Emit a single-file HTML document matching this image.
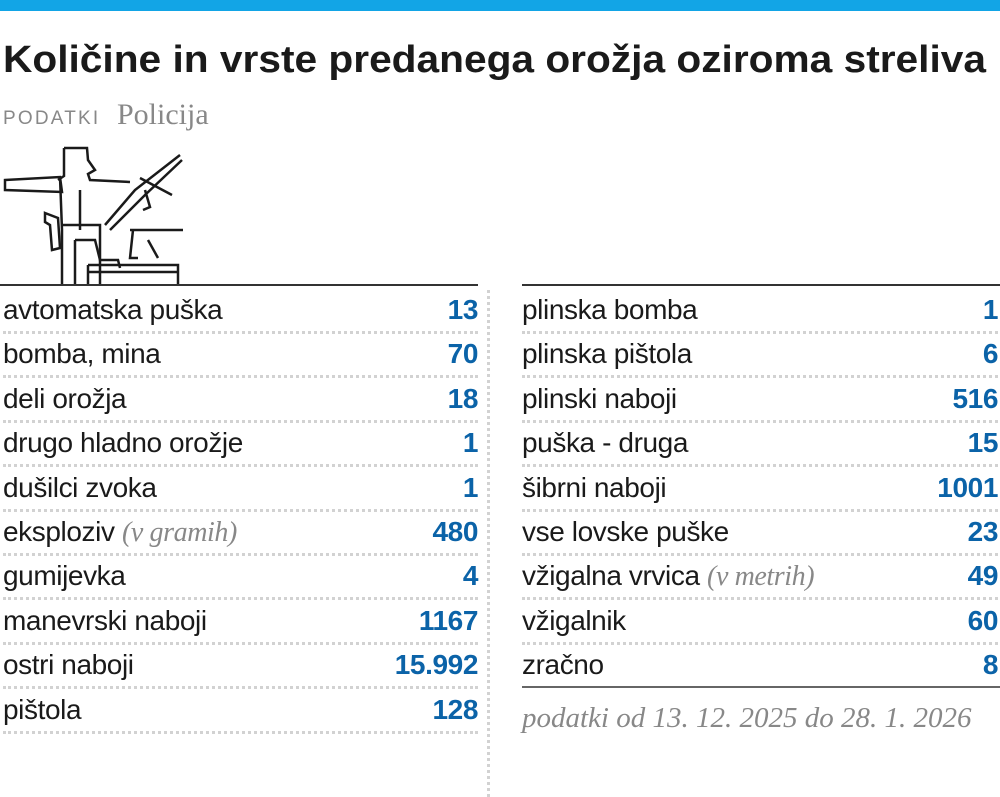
<!DOCTYPE html>
<html><head><meta charset="utf-8"><style>
body{margin:0;width:1000px;height:797px;background:#fff;position:relative;overflow:hidden;font-family:"Liberation Sans",sans-serif}
.bar{position:absolute;left:0;top:0;width:1000px;height:11px;background:#12a5e6}
.row{position:absolute;height:44px;font-size:28px;color:#1a1a1a;line-height:44px;letter-spacing:-0.4px}
.row b{position:absolute;right:0;top:0;color:#0b63a8;font-weight:bold}
.row i{font-family:"Liberation Serif",serif;color:#888}
.dot{position:absolute;height:0;border-top:3px dotted #d2d2d2}
</style></head><body>
<div class="bar"></div>
<svg style="position:absolute;left:0;top:0" width="1000" height="290">
<text x="3" y="72" font-family="Liberation Sans" font-weight="bold" font-size="38" fill="#1a1a1a" textLength="983" lengthAdjust="spacingAndGlyphs">Količine in vrste predanega orožja oziroma streliva</text>
<text x="3" y="124" font-family="Liberation Sans" font-size="19" fill="#888" letter-spacing="2.2">PODATKI</text>
<text x="117" y="124" font-family="Liberation Serif" font-size="30" fill="#888">Policija</text>
<g fill="none" stroke="#1a1a1a" stroke-width="2.5">
<path d="M5 180 L60 177 L62 192 L5 190 Z"/>
<path d="M64 148 L87 148 L88 160 L95 170 L88 174 L90 180 L130 182"/>
<path d="M64 148 L64 176 L58 180"/>
<path d="M60 177 L62 230 M80 190 L80 230"/>
<path d="M45 213 L58 218 L60 248 L52 250 L50 225 L45 222 Z"/>
<path d="M62 225 L100 225 L100 285 M62 230 L62 285 M75 240 L75 285"/>
<path d="M75 240 L95 240 L100 260 L118 260 L120 268"/>
<path d="M105 225 L135 190 L180 155 M110 230 L145 195 L182 160"/>
<path d="M140 178 L172 195 M145 190 L150 207 L143 210"/>
<path d="M130 230 L183 230 M133 230 L130 258 L138 258 M148 240 L158 258"/>
<path d="M88 265 L178 265 L178 285 M88 272 L178 272 M88 265 L88 285"/>
</g>
<line x1="0" y1="285" x2="478" y2="285" stroke="#333" stroke-width="2"/>
<line x1="522" y1="285" x2="1000" y2="285" stroke="#333" stroke-width="2"/>
</svg>
<div style="position:absolute;left:487px;top:290px;height:507px;border-left:3px dotted #d2d2d2"></div>
<div class="row" style="left:3px;width:475px;top:288px">avtomatska puška<b>13</b></div>
<div class="row" style="left:3px;width:475px;top:332px">bomba, mina<b>70</b></div>
<div class="row" style="left:3px;width:475px;top:377px">deli orožja<b>18</b></div>
<div class="row" style="left:3px;width:475px;top:421px">drugo hladno orožje<b>1</b></div>
<div class="row" style="left:3px;width:475px;top:466px">dušilci zvoka<b>1</b></div>
<div class="row" style="left:3px;width:475px;top:510px">eksploziv <i>(v gramih)</i><b>480</b></div>
<div class="row" style="left:3px;width:475px;top:554px">gumijevka<b>4</b></div>
<div class="row" style="left:3px;width:475px;top:599px">manevrski naboji<b>1167</b></div>
<div class="row" style="left:3px;width:475px;top:643px">ostri naboji<b>15.992</b></div>
<div class="row" style="left:3px;width:475px;top:688px">pištola<b>128</b></div>
<div class="row" style="left:522px;width:476px;top:288px">plinska bomba<b>1</b></div>
<div class="row" style="left:522px;width:476px;top:332px">plinska pištola<b>6</b></div>
<div class="row" style="left:522px;width:476px;top:377px">plinski naboji<b>516</b></div>
<div class="row" style="left:522px;width:476px;top:421px">puška - druga<b>15</b></div>
<div class="row" style="left:522px;width:476px;top:466px">šibrni naboji<b>1001</b></div>
<div class="row" style="left:522px;width:476px;top:510px">vse lovske puške<b>23</b></div>
<div class="row" style="left:522px;width:476px;top:554px">vžigalna vrvica <i>(v metrih)</i><b>49</b></div>
<div class="row" style="left:522px;width:476px;top:599px">vžigalnik<b>60</b></div>
<div class="row" style="left:522px;width:476px;top:643px">zračno<b>8</b></div>
<div class="dot" style="left:3px;width:475px;top:331px"></div>
<div class="dot" style="left:3px;width:475px;top:375px"></div>
<div class="dot" style="left:3px;width:475px;top:420px"></div>
<div class="dot" style="left:3px;width:475px;top:464px"></div>
<div class="dot" style="left:3px;width:475px;top:509px"></div>
<div class="dot" style="left:3px;width:475px;top:553px"></div>
<div class="dot" style="left:3px;width:475px;top:597px"></div>
<div class="dot" style="left:3px;width:475px;top:642px"></div>
<div class="dot" style="left:3px;width:475px;top:686px"></div>
<div class="dot" style="left:3px;width:475px;top:731px"></div>
<div class="dot" style="left:522px;width:476px;top:331px"></div>
<div class="dot" style="left:522px;width:476px;top:375px"></div>
<div class="dot" style="left:522px;width:476px;top:420px"></div>
<div class="dot" style="left:522px;width:476px;top:464px"></div>
<div class="dot" style="left:522px;width:476px;top:509px"></div>
<div class="dot" style="left:522px;width:476px;top:553px"></div>
<div class="dot" style="left:522px;width:476px;top:597px"></div>
<div class="dot" style="left:522px;width:476px;top:642px"></div>
<div style="position:absolute;left:522px;width:478px;top:686px;border-top:2px solid #666"></div>
<div style="position:absolute;left:522px;top:702px;font-family:'Liberation Serif',serif;font-style:italic;font-size:29px;color:#888">podatki od 13. 12. 2025 do 28. 1. 2026</div>
</body></html>
